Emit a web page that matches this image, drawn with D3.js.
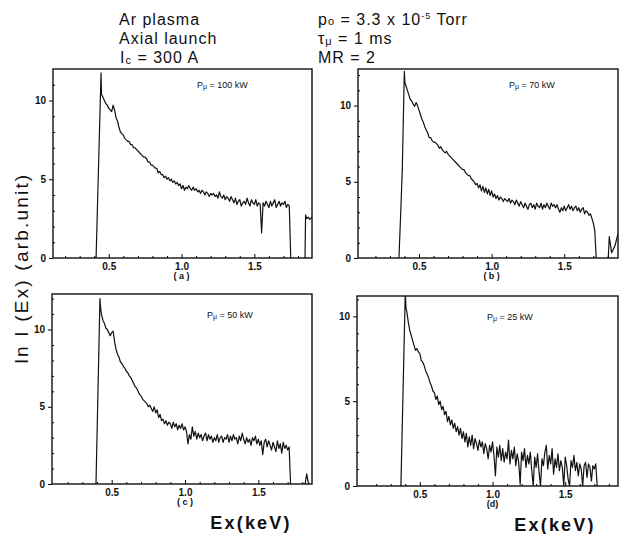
<!DOCTYPE html>
<html>
<head>
<meta charset="utf-8">
<script src="https://cdn.jsdelivr.net/npm/d3@7"></script>
<style>
  body { margin: 0; background: #fff; }
  svg { display: block; font-family: "Liberation Sans", Arial, sans-serif; }
</style>
</head>
<body>
<svg id="chart"></svg>
<script>
// ---- data ----
const energyStep = 0.01; // keV between points of each spectrum body
const xMajorTicks = [0.5, 1.0, 1.5];
const xMinorTicks = [0.2, 0.3, 0.4, 0.6, 0.7, 0.8, 0.9, 1.1, 1.2, 1.3, 1.4, 1.6, 1.7, 1.8];
const yMajorTicks = [0, 5, 10];
const yMinorTicks = [1, 2, 3, 4, 6, 7, 8, 9, 11, 12];
const panelNames = ["( a )", "( b )", "( c )", "(d)"];
const powers = ["100 kW", "70 kW", "50 kW", "25 kW"];

// (a) P = 100 kW
const riseA = [[0.413, 0], [0.447, 11.75]];
const startA = 0.45;
const valuesA = [
  10.4, 10.2, 10.0, 9.8, 9.7, 9.5, 9.4, 9.3, 9.7, 9.4,
  8.9, 8.7, 8.3, 8.0, 7.9, 7.8, 7.6, 7.5, 7.4, 7.4,
  7.2, 7.2, 7.0, 7.0, 6.9, 6.8, 6.7, 6.6, 6.5, 6.4,
  6.4, 6.3, 6.1, 6.1, 5.9, 5.9, 5.8, 5.7, 5.7, 5.4,
  5.5, 5.3, 5.3, 5.1, 5.2, 5.0, 5.1, 4.9, 5.0, 4.8,
  4.9, 4.7, 4.8, 4.6, 4.7, 4.4, 4.6, 4.3, 4.5, 4.4,
  4.6, 4.4, 4.3, 4.5, 4.3, 4.4, 4.2, 4.3, 4.1, 4.3,
  4.2, 4.0, 4.2, 4.1, 3.9, 4.1, 4.0, 4.1, 3.9, 4.0,
  3.8, 4.2, 3.9, 3.8, 4.0, 3.7, 3.9, 3.8, 3.6, 3.9,
  3.7, 3.5, 3.8, 3.4, 3.6, 3.7, 3.3, 3.5, 3.6, 3.4,
  3.8, 3.5, 3.3, 3.7, 3.5, 3.4, 3.7, 3.3, 3.5, 3.4,
  1.6, 3.5, 3.3, 3.6, 3.4, 3.2, 3.6, 3.3, 3.5, 3.7,
  3.2, 3.4, 3.6, 3.3, 3.5, 3.4, 3.6, 3.2, 3.4, 3.3,
  0
];
const tailA = [[1.848, 0], [1.852, 2.74], [1.86, 2.5], [1.87, 2.6], [1.88, 2.45], [1.896, 2.6]];

// (b) P = 70 kW
const riseB = [[0.362, 0], [0.375, 3.2], [0.385, 5.8], [0.399, 12.25], [0.403, 11.5]];
const startB = 0.41;
const valuesB = [
  11.3, 11.0, 10.7, 10.4, 10.3, 10.1, 9.95, 10.2, 10.0, 9.7,
  9.4, 9.1, 8.9, 8.6, 8.4, 8.2, 7.9, 7.9, 7.7, 7.6,
  7.6, 7.5, 7.4, 7.2, 7.3, 7.1, 7.0, 6.9, 7.0, 6.8,
  6.7, 6.6, 6.5, 6.4, 6.3, 6.2, 6.1, 6.0, 5.9, 5.8,
  5.8, 5.6, 5.5, 5.4, 5.4, 5.2, 5.1, 5.0, 4.8, 4.9,
  4.6, 4.8, 4.4, 4.7, 4.3, 4.6, 4.2, 4.5, 4.1, 4.4,
  4.0, 4.2, 3.9, 4.1, 3.8, 4.0, 3.9, 3.7, 3.9, 3.8,
  3.7, 3.9, 3.6, 3.8, 3.7, 3.5, 3.8, 3.6, 3.4, 3.7,
  3.5, 3.3, 3.6, 3.4, 3.2, 3.5, 3.6, 3.3, 3.5, 3.2,
  3.6, 3.4, 3.3, 3.6, 3.2, 3.5, 3.3, 3.6, 3.4, 3.2,
  3.6, 3.4, 3.5, 3.3, 3.5, 3.2, 3.0, 3.3, 3.1, 3.4,
  3.1, 3.3, 3.5, 3.2, 3.4, 3.1, 3.3, 3.4, 3.1, 3.3,
  3.0, 3.2, 3.3, 2.9, 3.1, 3.0, 2.8, 2.9, 2.6, 2.3,
  1.8, 0
];
const tailB = [[1.803, 0], [1.81, 1.4], [1.826, 0.35], [1.849, 0.8], [1.87, 1.6]];

// (c) P = 50 kW
const riseC = [[0.393, 0], [0.42, 12.0], [0.425, 11.36]];
const startC = 0.43;
const valuesC = [
  11.0, 10.6, 10.4, 10.1, 10.0, 9.8, 9.6, 9.8, 9.9, 9.2,
  8.7, 8.4, 8.2, 7.9, 7.8, 7.6, 7.5, 7.3, 7.2, 7.0,
  6.9, 6.7, 6.5, 6.3, 6.2, 6.0, 5.8, 5.7, 5.5, 5.4,
  5.3, 5.2, 5.0, 5.1, 4.9, 4.7, 5.0, 4.6, 4.8, 4.3,
  4.5, 4.1, 4.2, 3.9, 4.1, 3.8, 4.0, 3.9, 3.6, 4.0,
  3.7, 3.9, 3.5, 3.8, 3.6, 3.9, 3.5, 3.7, 3.4, 2.6,
  3.2, 2.9, 3.7, 3.1, 3.4, 2.9, 3.3, 3.0, 3.2, 2.8,
  3.1, 3.3, 2.8, 3.2, 2.9, 3.1, 2.7, 3.0, 2.8, 3.2,
  2.7, 3.0, 3.1, 2.7, 3.0, 2.9, 3.2, 2.7, 3.1, 2.8,
  3.2, 2.9, 3.0, 2.6, 3.1, 2.8, 3.3, 2.9, 2.6, 3.0,
  2.7, 2.9, 2.5, 3.0, 2.8, 3.1, 2.6, 2.9, 2.5, 2.8,
  1.9, 2.7, 2.9, 2.4, 2.8, 2.5, 2.2, 2.7, 2.4, 2.1,
  2.8, 2.3, 2.6, 2.0, 2.7, 2.3, 2.5, 2.2, 2.4, 0
];
const tailC = [[1.819, 0], [1.83, 0.65], [1.84, 0.1], [1.85, 0]];

// (d) P = 25 kW
const riseD = [[0.37, 0], [0.40, 11.4], [0.405, 10.5]];
const startD = 0.41;
const valuesD = [
  10.3, 9.7, 9.2, 8.9, 8.6, 8.3, 8.0, 8.1, 7.9, 7.8,
  7.4, 7.3, 7.1, 6.8, 6.6, 6.4, 6.1, 5.9, 5.6, 5.5,
  5.1, 5.3, 4.8, 5.0, 4.5, 4.7, 4.2, 4.4, 3.8, 4.1,
  3.6, 3.9, 3.4, 3.7, 3.2, 3.5, 3.0, 3.4, 2.8, 3.2,
  2.6, 3.1, 2.3, 2.9, 2.4, 3.0, 2.2, 2.8, 2.5, 2.1,
  2.7, 2.3, 2.6, 1.9, 2.5, 2.2, 1.6, 2.4, 2.0, 2.6,
  1.8, 0.6, 2.3, 1.7, 2.4, 1.5, 2.2, 1.4, 2.0, 1.6,
  2.7, 1.3, 2.1, 1.6, 2.3, 1.2, 1.9, 1.4, 0.1, 2.0,
  1.5, 2.2, 1.1, 1.8, 1.3, 2.0, 0.9, 0.0, 1.7, 1.1,
  1.9, 0.8, 0.0, 1.6, 1.2, 2.0, 2.4, 1.0, 1.8, 1.3,
  2.2, 0.7, 1.6, 1.1, 1.9, 0.9, 1.5, 1.1, 0.0, 1.7,
  1.2, 0.4, 0.0, 1.5, 1.1, 1.8, 0.9, 1.4, 0.6, 1.3,
  1.0, 0.0, 1.2, 1.4, 0.5, 1.3, 1.1, 0.3, 1.2, 1.0,
  1.3, 0
];
const tailD = [];

// ---- layout ----
const width = 623;
const height = 534;

const panels = [
  { rise: riseA, start: startA, values: valuesA, tail: tailA,
    box: [53, 69, 312, 258], xDomain: [0.117, 1.896], yMax: 12, powerX: 197, powerY: 88 },
  { rise: riseB, start: startB, values: valuesB, tail: tailB,
    box: [358, 69, 618, 258], xDomain: [0.08, 1.87], yMax: 12.4, powerX: 509, powerY: 88 },
  { rise: riseC, start: startC, values: valuesC, tail: tailC,
    box: [52, 294, 312, 484], xDomain: [0.093, 1.866], yMax: 12.3, powerX: 207, powerY: 318 },
  { rise: riseD, start: startD, values: valuesD, tail: tailD,
    box: [357, 296, 618, 486], xDomain: [0.068, 1.863], yMax: 11.2, powerX: 487, powerY: 320 }
];

const svg = d3
  .select("#chart")
  .attr("width", width)
  .attr("height", height)
  .attr("viewBox", [0, 0, width, height]);

panels.forEach((p, i) => {
  const [x0, y0, x1, y1] = p.box;
  const x = d3.scaleLinear().domain(p.xDomain).range([x0, x1]);
  const y = d3.scaleLinear().domain([0, p.yMax]).range([y1, y0]);
  const g = svg.append("g");

  const clipId = "clip" + i;
  g.append("clipPath").attr("id", clipId)
    .append("rect").attr("x", x0).attr("y", y0).attr("width", x1 - x0).attr("height", y1 - y0);

  const line = d3.line().x((d) => x(d[0])).y((d) => y(d[1]));
  const body = p.values.map((v, j) => [p.start + j * energyStep, v]);

  g.append("g")
    .attr("clip-path", `url(#${clipId})`)
    .attr("fill", "none")
    .attr("stroke", "#111")
    .attr("stroke-width", 1.2)
    .attr("stroke-linejoin", "round")
    .selectAll("path")
    .data([p.rise.concat(body), p.tail].filter((s) => s.length))
    .join("path")
    .attr("d", line);

  // minor ticks (inside)
  g.append("g")
    .attr("transform", `translate(0,${y1})`)
    .call(d3.axisBottom(x).tickValues(xMinorTicks).tickSize(-2).tickFormat(""))
    .call((a) => a.select(".domain").remove());
  g.append("g")
    .attr("transform", `translate(${x0},0)`)
    .call(d3.axisLeft(y).tickValues(yMinorTicks.filter((t) => t < p.yMax)).tickSize(-2).tickFormat(""))
    .call((a) => a.select(".domain").remove());

  // major x ticks with labels
  g.append("g")
    .attr("transform", `translate(0,${y1})`)
    .call(d3.axisBottom(x).tickValues(xMajorTicks).tickSizeInner(-4).tickSizeOuter(0)
      .tickPadding(5).tickFormat(d3.format(".1f")))
    .call((a) => a.select(".domain").remove())
    .call((a) => a.selectAll("text").attr("font-size", 10).attr("font-weight", "bold").attr("fill", "#111"));

  // major y ticks with labels
  g.append("g")
    .attr("transform", `translate(${x0},0)`)
    .call(d3.axisLeft(y).tickValues(yMajorTicks).tickSizeInner(4).tickSizeOuter(0).tickPadding(3))
    .call((a) => a.select(".domain").remove())
    .call((a) => a.selectAll("text").attr("font-size", 10).attr("font-weight", "bold").attr("fill", "#111"));

  // frame
  g.append("rect")
    .attr("x", x0).attr("y", y0)
    .attr("width", x1 - x0).attr("height", y1 - y0)
    .attr("fill", "none").attr("stroke", "#111").attr("stroke-width", 1.4);

  // power label
  const pt = g.append("text")
    .attr("x", p.powerX).attr("y", p.powerY)
    .attr("font-size", 9).attr("fill", "#111");
  pt.append("tspan").text("P");
  pt.append("tspan").attr("font-size", 7).attr("dy", 1).text("μ");
  pt.append("tspan").attr("dy", -1).text(" = " + powers[i]);

  // panel name
  g.append("text")
    .attr("x", x(1.0)).attr("y", y1 + 21)
    .attr("text-anchor", "middle")
    .attr("font-size", 9).attr("font-weight", "bold").attr("fill", "#111")
    .text(panelNames[i]);
});

// ---- header ----
const header = svg.append("g").attr("fill", "#111").attr("font-size", 16).attr("letter-spacing", 1);
header.append("text").attr("x", 119).attr("y", 25).text("Ar  plasma");
header.append("text").attr("x", 119).attr("y", 44).text("Axial  launch");
const ic = header.append("text").attr("x", 120).attr("y", 63);
ic.append("tspan").text("I");
ic.append("tspan").attr("font-size", 11).attr("dy", 1).text("c");
ic.append("tspan").attr("dy", -1).text(" = 300 A");

const p0 = header.append("text").attr("x", 318).attr("y", 25);
p0.append("tspan").text("p");
p0.append("tspan").attr("font-size", 11).text("o");
p0.append("tspan").text(" =  3.3 x 10");
p0.append("tspan").attr("font-size", 9).attr("dy", -6).text("-5");
p0.append("tspan").attr("dy", 6).text(" Torr");
const tau = header.append("text").attr("x", 318).attr("y", 44);
tau.append("tspan").text("τ");
tau.append("tspan").attr("font-size", 11).attr("dy", 1).text("μ");
tau.append("tspan").attr("dy", -1).text(" =   1 ms");
header.append("text").attr("x", 318).attr("y", 63).text("MR = 2");

// ---- axis titles ----
svg.append("text")
  .attr("transform", "translate(28,268) rotate(-90)")
  .attr("text-anchor", "middle")
  .attr("font-size", 19).attr("letter-spacing", 2.2).attr("fill", "#111")
  .text("ln I  (Ex)  (arb.unit)");

svg.selectAll(".xtitle")
  .data([251, 555])
  .join("text")
  .attr("class", "xtitle")
  .attr("x", (d) => d).attr("y", (d, i) => 529 + i * 2)
  .attr("text-anchor", "middle")
  .attr("font-size", 18).attr("font-weight", "bold").attr("letter-spacing", 2.2).attr("fill", "#111")
  .text("Ex(keV)");
</script>
</body>
</html>
